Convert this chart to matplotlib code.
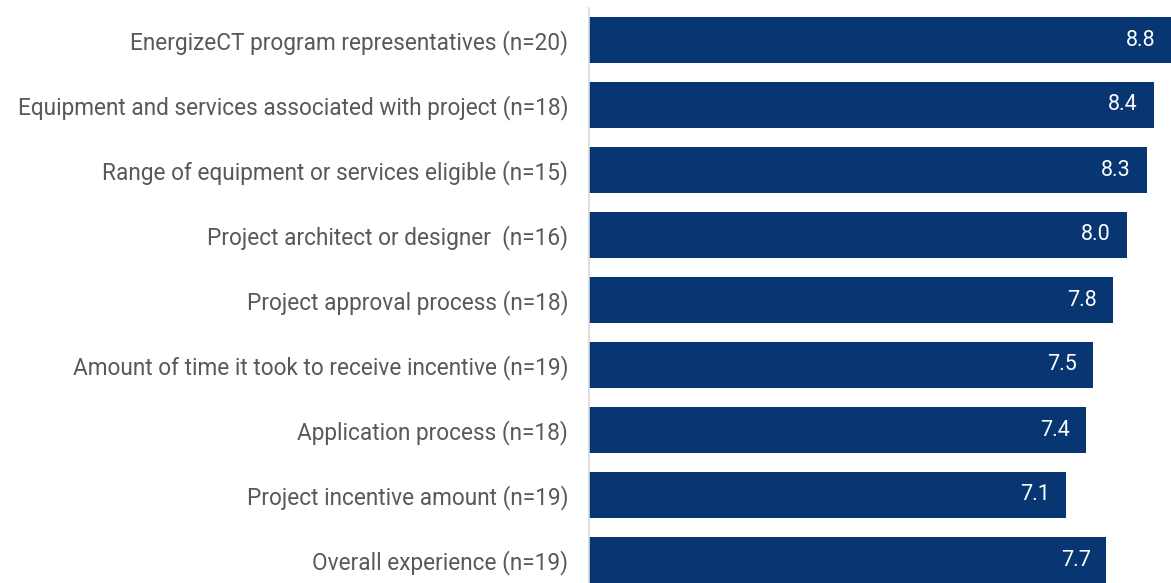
import matplotlib.pyplot as plt

# 評価項目と平均スコア
labels = [
    'EnergizeCT program representatives (n=20)',
    'Equipment and services associated with project (n=18)',
    'Range of equipment or services eligible (n=15)',
    'Project architect or designer  (n=16)',
    'Project approval process (n=18)',
    'Amount of time it took to receive incentive (n=19)',
    'Application process (n=18)',
    'Project incentive amount (n=19)',
    'Overall experience (n=19)',
]
scores = [8.8, 8.4, 8.3, 8.0, 7.8, 7.5, 7.4, 7.1, 7.7]

bar_color = '#073673'
plt.rcParams['font.family'] = ['Roboto', 'DejaVu Sans']

fig = plt.figure(figsize=(11.71, 5.83), dpi=100)
ax = fig.add_axes([589 / 1171, -9.5 / 583, 582 / 1171, 585 / 583])

y = list(range(len(labels)))
ax.barh(y, scores, height=0.71, color=bar_color)

# バーの内側に値を表示
for yi, s in zip(y, scores):
    ax.annotate(f'{s:.1f}', xy=(min(s, 8.66), yi), xytext=(-11.5, 0),
                textcoords='offset points', ha='right', va='center',
                color='white', fontsize=15.5)

ax.set_xlim(0, 8.66)
ax.set_ylim(8.5, -0.5)
ax.set_yticks(y)
ax.set_yticklabels(labels, fontsize=16.3, color='#595959')
ax.tick_params(axis='y', length=0, pad=15)
ax.set_xticks([])
for side in ['top', 'right', 'bottom']:
    ax.spines[side].set_visible(False)
ax.spines['left'].set_color('#d9d9d9')
ax.spines['left'].set_linewidth(1.2)

plt.savefig('out.png', dpi=100)
